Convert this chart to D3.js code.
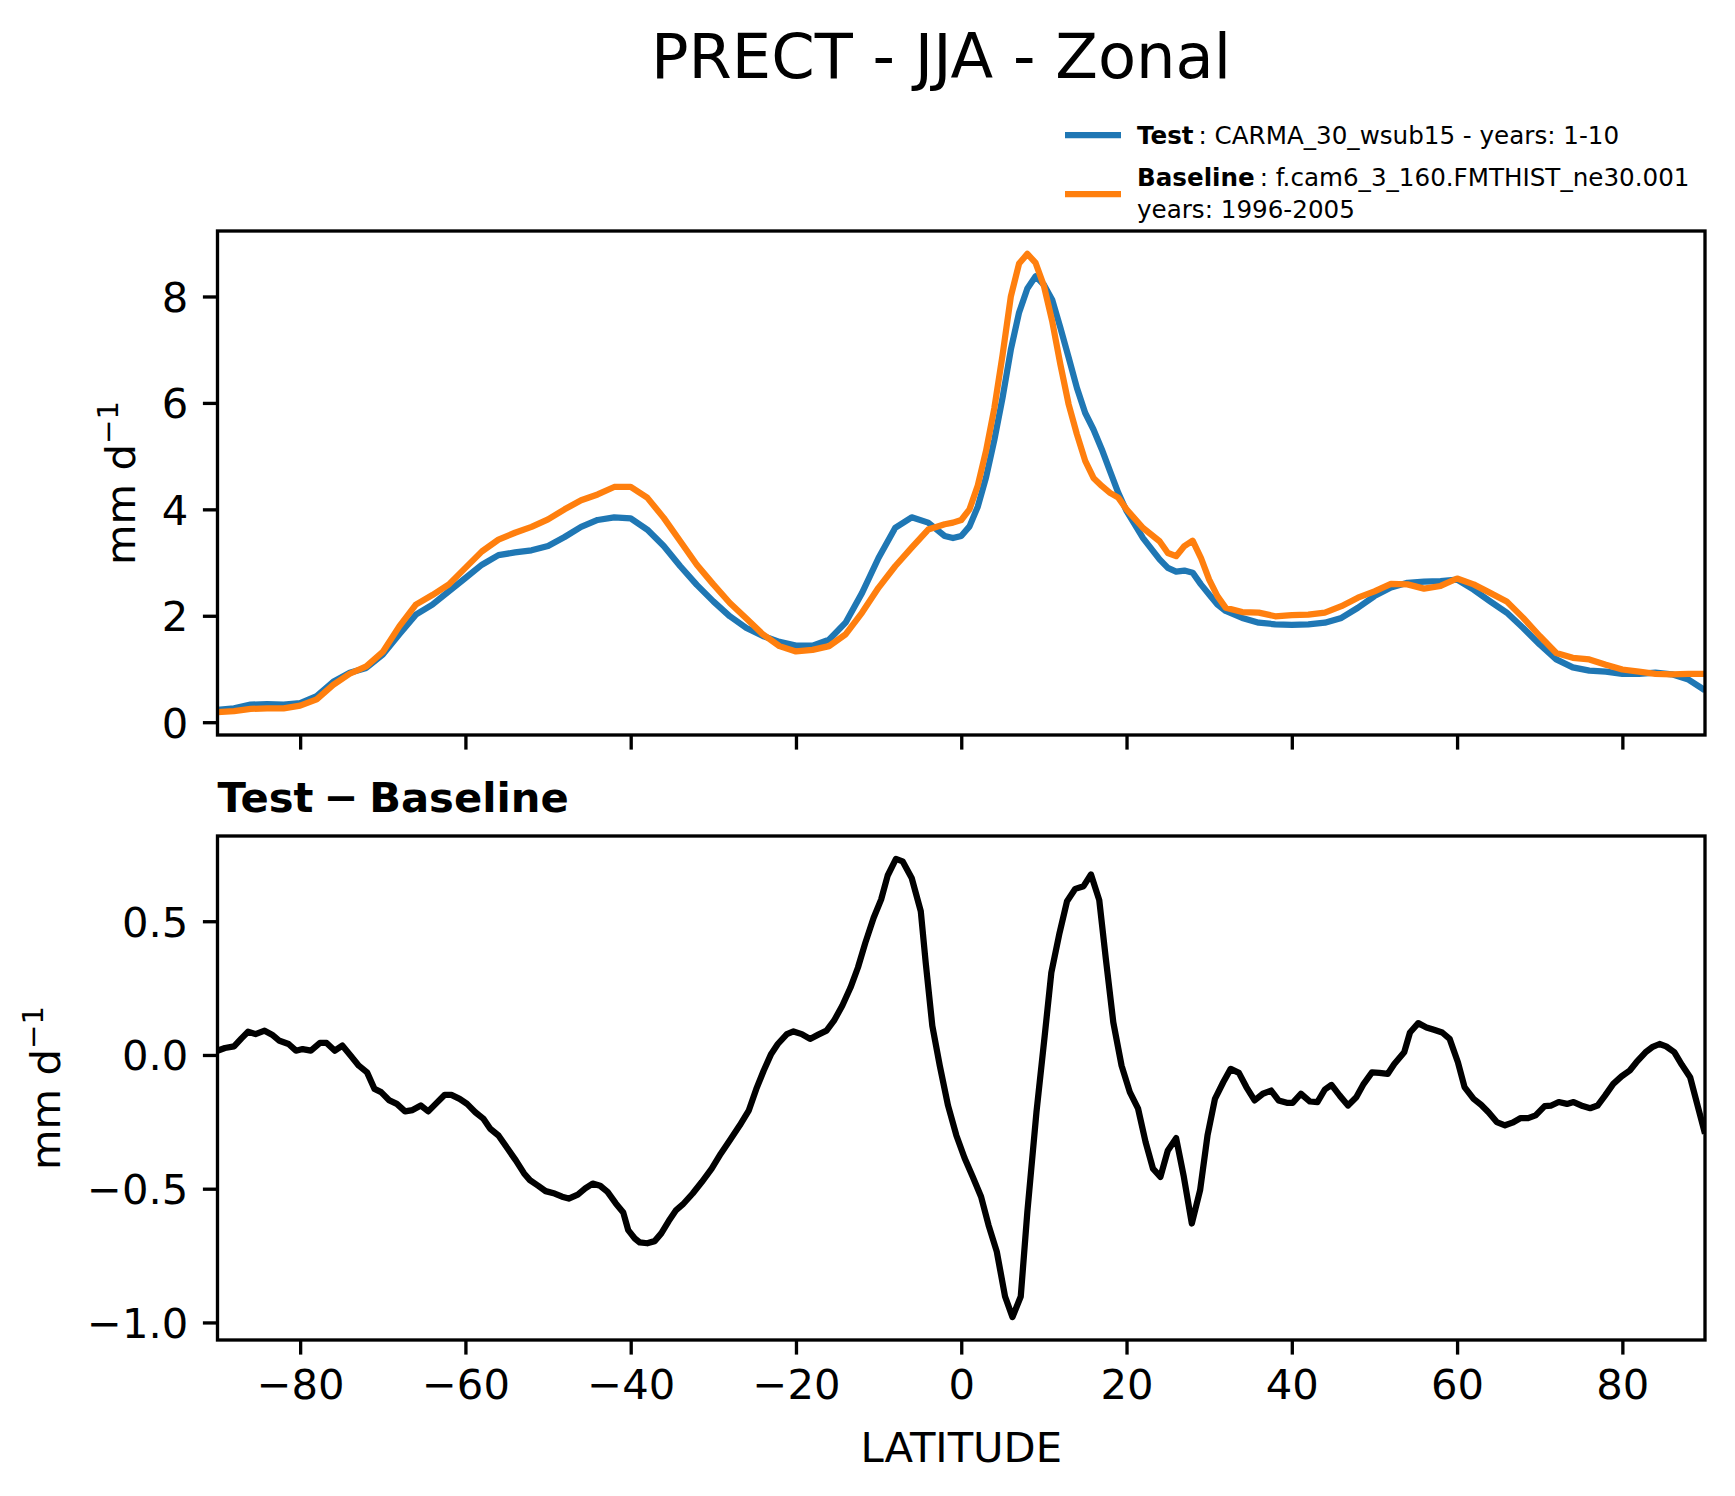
<!DOCTYPE html>
<html>
<head>
<meta charset="utf-8">
<script src="https://cdn.jsdelivr.net/npm/d3@7"></script>
<style>
  body { margin: 0; background: #fff; }
  svg { display: block; font-family: "DejaVu Sans", sans-serif; }
</style>
</head>
<body>
<div id="chart"></div>
<script>
// latitudes for the two zonal-mean curves (denser around the ITCZ peak)
const latTop = [
  -90, -88, -86, -84, -82, -80, -78, -76, -74, -72, -70, -68, -66, -64, -62, -60,
  -58, -56, -54, -52, -50, -48, -46, -44, -42, -40, -38, -36, -34, -32, -30, -28,
  -26, -24, -22, -20, -18, -16, -14, -12, -10, -8, -6, -4, -2, -1,
  0, 1, 2, 3, 4, 5, 6, 7, 8, 9, 10, 11, 12, 13, 14, 15, 16, 17, 18, 19, 20,
  22, 24, 25, 26, 27, 28, 29, 30, 31, 32, 34, 36, 38, 40, 42, 44, 46, 48, 50,
  52, 54, 56, 58, 60, 62, 64, 66, 68, 70, 72, 74, 76, 78, 80, 82, 84, 86, 88, 90
];
const testVals = [
  0.23, 0.26, 0.33, 0.34, 0.33, 0.36, 0.49, 0.76, 0.93, 1.02, 1.27, 1.65, 2.02, 2.21, 2.46, 2.71,
  2.96, 3.14, 3.19, 3.23, 3.31, 3.48, 3.67, 3.80, 3.85, 3.83, 3.62, 3.31, 2.93, 2.58, 2.27, 1.99,
  1.77, 1.62, 1.51, 1.44, 1.44, 1.55, 1.87, 2.43, 3.09, 3.65, 3.85, 3.75, 3.50, 3.46,
  3.50, 3.68, 4.05, 4.60, 5.30, 6.10, 7.00, 7.70, 8.15, 8.38, 8.22, 7.94, 7.41, 6.85, 6.28, 5.81, 5.50, 5.13, 4.72, 4.31, 3.97,
  3.46, 3.06, 2.90, 2.83, 2.85, 2.81, 2.59, 2.40, 2.21, 2.09, 1.96, 1.87, 1.84, 1.83, 1.84, 1.87, 1.96, 2.15, 2.37,
  2.53, 2.62, 2.64, 2.65, 2.68, 2.49, 2.27, 2.06, 1.77, 1.46, 1.18, 1.03, 0.97, 0.95, 0.91, 0.91, 0.93, 0.90, 0.80, 0.60
];
const baseVals = [
  0.19, 0.21, 0.25, 0.26, 0.26, 0.31, 0.43, 0.70, 0.91, 1.05, 1.32, 1.80, 2.21, 2.39, 2.59, 2.90,
  3.21, 3.43, 3.56, 3.67, 3.81, 4.00, 4.17, 4.28, 4.42, 4.42, 4.22, 3.84, 3.40, 2.96, 2.59, 2.24,
  1.95, 1.65, 1.43, 1.33, 1.36, 1.43, 1.65, 2.06, 2.53, 2.93, 3.28, 3.62, 3.72, 3.75,
  3.80, 4.00, 4.45, 5.10, 5.90, 6.90, 8.00, 8.62, 8.80, 8.63, 8.20, 7.54, 6.72, 5.97, 5.41, 4.91, 4.59, 4.44, 4.31, 4.22, 4.00,
  3.65, 3.40, 3.18, 3.12, 3.31, 3.41, 3.09, 2.68, 2.37, 2.15, 2.07, 2.06, 1.99, 2.01, 2.02, 2.06, 2.18, 2.34, 2.46,
  2.60, 2.59, 2.51, 2.56, 2.70, 2.59, 2.43, 2.27, 1.96, 1.62, 1.30, 1.21, 1.18, 1.08, 0.99, 0.95, 0.91, 0.90, 0.91, 0.91
];

// Test - Baseline difference
const latDiff = [
  -90, -89.1, -88, -87.1, -86.3, -85.4, -84.3, -83.4, -82.5, -81.4, -80.5, -79.7, -78.7, -77.6, -76.8, -75.8,
  -74.9, -73.9, -72.9, -71.9, -71, -70.2, -69.2, -68.3, -67.3, -66.4, -65.4, -64.5, -63.6, -62.5, -61.7, -60.7,
  -59.8, -58.8, -57.8, -57, -56, -54.9, -53.9, -52.9, -52.2, -51.2, -50.3, -49.2, -48.3, -47.5, -46.4, -45.5,
  -44.6, -43.7, -42.8, -41.8, -40.9, -40.3, -39.5, -38.9, -38, -37.1, -36.3, -35.4, -34.5, -33.7, -32.5, -31.4,
  -30.2, -29.1, -28, -26.8, -25.7, -24.8, -23.9, -23, -22.2, -21.1, -20.3, -19.3, -18.3, -17.3, -16.3, -15.4,
  -14.4, -13.4, -12.5, -11.6, -10.6, -9.7, -8.9, -7.9, -7.1, -6, -4.9, -4.3, -3.5, -2.6, -1.6, -0.6,
  0.4, 1.4, 2.4, 3.3, 4.3, 5.3, 6.2, 7.2, 8.0, 9.1, 10.1, 10.9, 11.9, 12.8, 13.8, 14.8,
  15.7, 16.7, 17.5, 18.4, 19.4, 20.4, 21.4, 22.3, 23.2, 24.1, 25.0, 26.0, 26.9, 27.9, 28.9, 29.8,
  30.7, 31.7, 32.6, 33.6, 34.5, 35.5, 36.5, 37.5, 38.4, 39.4, 40.1, 41.1, 42.2, 43.1, 44.0, 44.8,
  45.8, 46.8, 47.8, 48.7, 49.7, 50.6, 51.6, 52.4, 53.6, 54.3, 55.3, 56.3, 57.2, 58.2, 59.1, 60.1,
  60.9, 62.0, 62.9, 63.8, 64.8, 65.8, 66.7, 67.7, 68.6, 69.5, 70.6, 71.4, 72.3, 73.3, 74.1, 75.2,
  76.1, 77.0, 77.9, 78.9, 79.9, 80.9, 81.7, 82.8, 83.6, 84.5, 85.3, 86.3, 87.2, 88.2, 89.1, 90
];
const diffVals = [
  0.016, 0.026, 0.032, 0.062, 0.087, 0.078, 0.091, 0.076, 0.053, 0.041, 0.016, 0.022, 0.016, 0.045, 0.045, 0.016,
  0.035, -0.002, -0.040, -0.065, -0.127, -0.139, -0.170, -0.183, -0.211, -0.206, -0.189, -0.211, -0.183, -0.149, -0.149, -0.164,
  -0.183, -0.214, -0.239, -0.276, -0.301, -0.350, -0.394, -0.443, -0.468, -0.489, -0.509, -0.518, -0.530, -0.537, -0.522, -0.499,
  -0.481, -0.489, -0.512, -0.555, -0.589, -0.655, -0.686, -0.701, -0.704, -0.696, -0.667, -0.621, -0.580, -0.559, -0.518, -0.475,
  -0.425, -0.369, -0.319, -0.263, -0.207, -0.127, -0.058, 0.004, 0.041, 0.078, 0.088, 0.078, 0.060, 0.076, 0.091, 0.128,
  0.184, 0.252, 0.327, 0.420, 0.513, 0.581, 0.671, 0.733, 0.724, 0.662, 0.538, 0.345, 0.109, -0.040, -0.189, -0.300,
  -0.385, -0.456, -0.530, -0.636, -0.735, -0.903, -0.980, -0.903, -0.586, -0.214, 0.072, 0.308, 0.457, 0.575, 0.621, 0.631,
  0.675, 0.579, 0.358, 0.122, -0.040, -0.139, -0.201, -0.325, -0.425, -0.456, -0.357, -0.311, -0.450, -0.630, -0.506, -0.301,
  -0.164, -0.102, -0.052, -0.067, -0.120, -0.170, -0.145, -0.133, -0.170, -0.179, -0.179, -0.145, -0.174, -0.176, -0.129, -0.112,
  -0.152, -0.189, -0.158, -0.108, -0.065, -0.067, -0.071, -0.034, 0.010, 0.084, 0.119, 0.103, 0.094, 0.084, 0.060, -0.027,
  -0.120, -0.164, -0.186, -0.214, -0.251, -0.263, -0.253, -0.236, -0.236, -0.226, -0.191, -0.189, -0.176, -0.183, -0.176, -0.191,
  -0.199, -0.189, -0.152, -0.108, -0.080, -0.058, -0.027, 0.010, 0.029, 0.041, 0.032, 0.010, -0.037, -0.083, -0.189, -0.294
];

const xTicks = [-80, -60, -40, -20, 0, 20, 40, 60, 80];
const topTicks = [0, 2, 4, 6, 8];
const bottomTicks = [-1.0, -0.5, 0.0, 0.5];

const W = 1735, H = 1496;
const fs = 41.7;            // 10pt at 300 dpi
const tickLen = 14.6, axLw = 3.33, lineLw = 6.25;
const left = 217.5, right = 1705;
const topBox = {y0: 231, y1: 735};
const botBox = {y0: 836, y1: 1340};

const svg = d3.select("#chart").append("svg")
    .attr("width", W)
    .attr("height", H);

const x = d3.scaleLinear().domain([-90, 90]).range([left, right]);

// matplotlib style 5% padding
function padded(vals) {
    const [lo, hi] = d3.extent(vals);
    const m = (hi - lo) * 0.05;
    return [lo - m, hi + m];
}

const yTop = d3.scaleLinear()
    .domain(padded(testVals.concat(baseVals)))
    .range([topBox.y1, topBox.y0]);
const yBot = d3.scaleLinear()
    .domain(padded(diffVals))
    .range([botBox.y1, botBox.y0]);

const defs = svg.append("defs");
[["clipTop", topBox], ["clipBot", botBox]].forEach(([id, b]) => {
    defs.append("clipPath").attr("id", id)
        .append("rect")
        .attr("x", left).attr("y", b.y0)
        .attr("width", right - left).attr("height", b.y1 - b.y0);
});

function styleAxis(g) {
    g.select(".domain").remove();
    g.selectAll(".tick line").attr("stroke", "#000").attr("stroke-width", axLw);
    g.selectAll(".tick text")
        .attr("font-size", fs)
        .attr("font-family", "DejaVu Sans")
        .attr("fill", "#000");
}

// ---- top panel ----
const lineTop = (vals) => d3.line()
    .x((d, i) => x(latTop[i]))
    .y((d) => yTop(d))(vals);

const gTop = svg.append("g");
gTop.append("path")
    .attr("d", lineTop(testVals))
    .attr("fill", "none")
    .attr("stroke", "#1f77b4")
    .attr("stroke-width", lineLw)
    .attr("stroke-linejoin", "round")
    .attr("clip-path", "url(#clipTop)");
gTop.append("path")
    .attr("d", lineTop(baseVals))
    .attr("fill", "none")
    .attr("stroke", "#ff7f0e")
    .attr("stroke-width", lineLw)
    .attr("stroke-linejoin", "round")
    .attr("clip-path", "url(#clipTop)");

svg.append("g")
    .attr("transform", `translate(${left},0)`)
    .call(d3.axisLeft(yTop).tickValues(topTicks).tickFormat(d3.format("d"))
        .tickSize(tickLen).tickPadding(tickLen))
    .call(styleAxis)
    .call(g => g.selectAll(".tick text").attr("dy", "0.36em"));

svg.append("g")
    .attr("transform", `translate(0,${topBox.y1})`)
    .call(d3.axisBottom(x).tickValues(xTicks).tickFormat("")
        .tickSize(tickLen))
    .call(styleAxis);

svg.append("rect")
    .attr("x", left).attr("y", topBox.y0)
    .attr("width", right - left).attr("height", topBox.y1 - topBox.y0)
    .attr("fill", "none").attr("stroke", "#000").attr("stroke-width", axLw);

// ---- bottom panel ----
svg.append("path")
    .attr("d", d3.line()
        .x((d, i) => x(latDiff[i]))
        .y((d) => yBot(d))(diffVals))
    .attr("fill", "none")
    .attr("stroke", "#000")
    .attr("stroke-width", lineLw)
    .attr("stroke-linejoin", "round")
    .attr("clip-path", "url(#clipBot)");

svg.append("g")
    .attr("transform", `translate(${left},0)`)
    .call(d3.axisLeft(yBot).tickValues(bottomTicks).tickFormat(d3.format(".1f"))
        .tickSize(tickLen).tickPadding(tickLen))
    .call(styleAxis)
    .call(g => g.selectAll(".tick text").attr("dy", "0.36em"));

svg.append("g")
    .attr("transform", `translate(0,${botBox.y1})`)
    .call(d3.axisBottom(x).tickValues(xTicks).tickFormat(d3.format("d"))
        .tickSize(tickLen).tickPadding(tickLen))
    .call(styleAxis);

svg.append("rect")
    .attr("x", left).attr("y", botBox.y0)
    .attr("width", right - left).attr("height", botBox.y1 - botBox.y0)
    .attr("fill", "none").attr("stroke", "#000").attr("stroke-width", axLw);

// ---- labels ----
function yLabel(bx, cy) {
    const t = svg.append("text")
        .attr("transform", `translate(${bx},${cy}) rotate(-90)`)
        .attr("text-anchor", "middle")
        .attr("font-size", fs);
    t.append("tspan").text("mm d");
    t.append("tspan").attr("dy", -fs * 0.42).attr("font-size", fs * 0.7).text("\u22121");
}
yLabel(135, (topBox.y0 + topBox.y1) / 2);
yLabel(60, (botBox.y0 + botBox.y1) / 2);

svg.append("text")
    .attr("x", (left + right) / 2).attr("y", 1462)
    .attr("text-anchor", "middle")
    .attr("font-size", fs)
    .text("LATITUDE");

svg.append("text")
    .attr("x", left).attr("y", 812)
    .attr("font-size", fs)
    .attr("font-weight", "bold")
    .text("Test\u2005\u2212\u2005Baseline");

svg.append("text")
    .attr("x", 941).attr("y", 78)
    .attr("text-anchor", "middle")
    .attr("font-size", 62.3)
    .text("PRECT - JJA - Zonal");

// ---- legend ----
const lfs = 24.6;
const legend = svg.append("g");
legend.append("line")
    .attr("x1", 1065).attr("x2", 1121).attr("y1", 135).attr("y2", 135)
    .attr("stroke", "#1f77b4").attr("stroke-width", lineLw);
legend.append("line")
    .attr("x1", 1065).attr("x2", 1121).attr("y1", 194).attr("y2", 194)
    .attr("stroke", "#ff7f0e").attr("stroke-width", lineLw);

const t1 = legend.append("text").attr("x", 1137).attr("y", 144).attr("font-size", lfs);
t1.append("tspan").attr("font-weight", "bold").text("Test");
t1.append("tspan").text("\u2009: CARMA_30_wsub15 - years: 1-10");

const t2 = legend.append("text").attr("x", 1137).attr("y", 186).attr("font-size", lfs);
t2.append("tspan").attr("font-weight", "bold").text("Baseline");
t2.append("tspan").text("\u2009: f.cam6_3_160.FMTHIST_ne30.001");
legend.append("text").attr("x", 1137).attr("y", 218).attr("font-size", lfs)
    .text("years: 1996-2005");
</script>
</body>
</html>
